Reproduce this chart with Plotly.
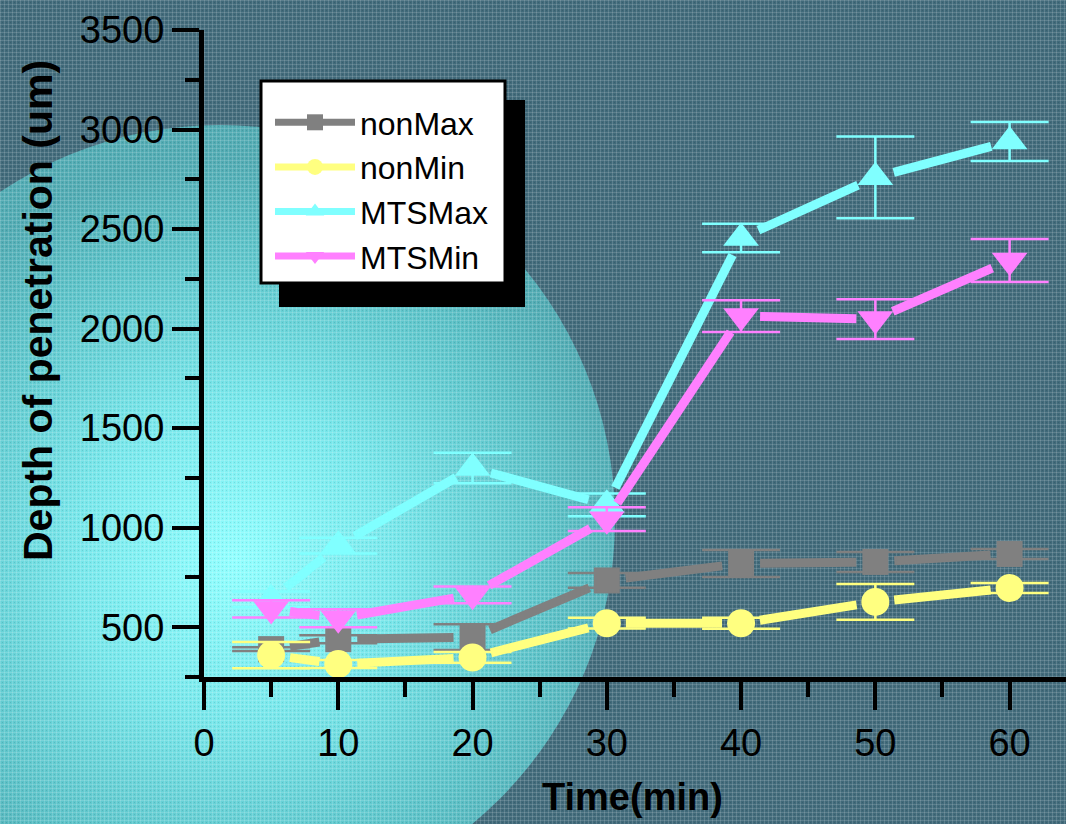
import base64
import math
import plotly.graph_objects as go

# ---------------- data ----------------
time_min = [5, 10, 20, 30, 40, 50, 60]

non_max = [390, 440, 450, 735, 820, 828, 868]
non_max_err = [10, 20, 65, 37, 68, 50, 25]

non_min = [360, 315, 348, 520, 520, 627, 697]
non_min_err = [66, 20, 27, 27, 28, 90, 25]

mts_max = [640, 910, 1300, 1115, 2455, 2760, 2940]
mts_max_err = [40, 40, 77, 57, 72, 205, 98]

mts_min = [592, 545, 663, 1043, 2063, 2048, 2342]
mts_min_err = [43, 45, 42, 60, 80, 100, 108]

series_names = ["nonMax", "nonMin", "MTSMax", "MTSMin"]
x_ticks = [0, 10, 20, 30, 40, 50, 60]
y_ticks = [500, 1000, 1500, 2000, 2500, 3000, 3500]

# ---------------- layout geometry ----------------
W, H = 1066, 824
ML, MT, MR, MB = 204, 30, 0, 147
PW, PH = W - ML - MR, H - MT - MB
XR = [0, 64.2]
YR = [250, 3500]
SX = PW / (XR[1] - XR[0])
SY = PH / (YR[1] - YR[0])


def fx(px):
    return (px - ML) / PW


def fy(py):
    return 1 - (py - MT) / PH


def gapped_segments(xs, ys, gap_px):
    """Line segments between consecutive points, shortened near markers (Origin style)."""
    gx, gy = [], []
    for i in range(len(xs) - 1):
        ax, ay = xs[i] * SX, ys[i] * SY
        bx, by = xs[i + 1] * SX, ys[i + 1] * SY
        dx, dy = bx - ax, by - ay
        L = math.hypot(dx, dy)
        if L <= 2 * gap_px:
            continue
        ux, uy = dx / L, dy / L
        gx += [(ax + ux * gap_px) / SX, (bx - ux * gap_px) / SX, None]
        gy += [(ay + uy * gap_px) / SY, (by - uy * gap_px) / SY, None]
    return gx, gy


# ---------------- background (glow + fine grid texture) ----------------
svg = f"""<svg xmlns='http://www.w3.org/2000/svg' width='{W}' height='{H}' viewBox='0 0 {W} {H}'>
<defs>
<radialGradient id='g' gradientUnits='userSpaceOnUse' cx='235' cy='560' r='400'>
<stop offset='0' stop-color='#90ffff'/>
<stop offset='0.4' stop-color='#76e6ea'/>
<stop offset='0.8' stop-color='#5ac0c6'/>
<stop offset='1' stop-color='#50aab2'/>
</radialGradient>
<pattern id='p' width='4' height='4' patternUnits='userSpaceOnUse'>
<rect x='0' y='0' width='4' height='1' fill='#ffffff' fill-opacity='0.14'/>
<rect x='0' y='0' width='1' height='4' fill='#ffffff' fill-opacity='0.14'/>
<rect x='2' y='2' width='1' height='1' fill='#000000' fill-opacity='0.10'/>
</pattern>
</defs>
<rect x='0' y='0' width='{W}' height='{H}' fill='#416a7a'/>
<circle cx='220' cy='520' r='395' fill='url(#g)'/>
<rect x='0' y='0' width='{W}' height='{H}' fill='url(#p)'/>
</svg>"""
bg_src = "data:image/svg+xml;base64," + base64.b64encode(svg.encode()).decode()

# ---------------- traces ----------------
styles = [
    dict(color="#808080", symbol="square", size=26),
    dict(color="#ffff80", symbol="circle", size=28),
    dict(color="#80ffff", symbol="triangle-up", size=31),
    dict(color="#ff80ff", symbol="triangle-down", size=31),
]
all_y = [non_max, non_min, mts_max, mts_min]
all_err = [non_max_err, non_min_err, mts_max_err, mts_min_err]

fig = go.Figure()
for name, st, ys, es in zip(series_names, styles, all_y, all_err):
    gx, gy = gapped_segments(time_min, ys, 19)
    fig.add_trace(go.Scatter(
        x=gx, y=gy, mode="lines", line=dict(color=st["color"], width=9),
        showlegend=False, hoverinfo="skip", connectgaps=False,
    ))
    fig.add_trace(go.Scatter(
        x=time_min, y=ys, mode="markers",
        marker=dict(color=st["color"], symbol=st["symbol"], size=st["size"], line=dict(width=0)),
        error_y=dict(type="data", array=es, visible=True, color=st["color"], thickness=2.5, width=39),
        showlegend=False,
    ))
    fig.add_trace(go.Scatter(
        x=[None], y=[None], mode="lines+markers", name=name,
        line=dict(color=st["color"], width=7),
        marker=dict(color=st["color"], symbol=st["symbol"], size=16, line=dict(width=0)),
    ))

font_family = "Liberation Sans, Arial, sans-serif"

fig.update_layout(
    width=W, height=H,
    margin=dict(l=ML, r=MR, t=MT, b=MB, pad=0),
    paper_bgcolor="#416a7a",
    plot_bgcolor="rgba(0,0,0,0)",
    font=dict(family=font_family, color="black"),
    images=[dict(
        source=bg_src, xref="paper", yref="paper",
        x=fx(0), y=fy(0), sizex=W / PW, sizey=H / PH,
        xanchor="left", yanchor="top", sizing="stretch", layer="below",
    )],
    shapes=[
        dict(type="rect", xref="paper", yref="paper",
             x0=fx(279), x1=fx(525), y0=fy(307), y1=fy(100),
             fillcolor="black", line=dict(width=0), layer="below"),
        dict(type="rect", xref="paper", yref="paper",
             x0=fx(261), x1=fx(505), y0=fy(283), y1=fy(81),
             fillcolor="white", line=dict(color="black", width=3), layer="below"),
    ],
    legend=dict(
        x=fx(270), y=fy(95), xanchor="left", yanchor="top",
        bgcolor="rgba(0,0,0,0)", borderwidth=0,
        font=dict(family=font_family, size=32, color="black"),
        itemwidth=80, tracegroupgap=0,
    ),
    annotations=[
        dict(text="Depth of penetration (um)", xref="paper", yref="paper",
             x=fx(38), y=fy(311), textangle=-90, showarrow=False,
             xanchor="center", yanchor="middle",
             font=dict(family=font_family, size=41, weight="bold", color="black")),
        dict(text="Time(min)", xref="paper", yref="paper",
             x=fx(632), y=fy(797), showarrow=False,
             xanchor="center", yanchor="middle",
             font=dict(family=font_family, size=38, weight="bold", color="black")),
    ],
    xaxis=dict(
        range=XR, tickmode="array", tickvals=x_ticks, ticktext=[str(v) for v in x_ticks],
        showgrid=False, zeroline=False,
        showline=True, linecolor="black", linewidth=5,
        ticks="outside", ticklen=28, tickwidth=4, tickcolor="black",
        tickfont=dict(family=font_family, size=38, color="black"),
        minor=dict(tickmode="linear", tick0=5, dtick=10, ticks="outside", ticklen=15,
                   tickwidth=4, tickcolor="black", showgrid=False),
    ),
    yaxis=dict(
        range=YR, tickmode="array", tickvals=y_ticks, ticktext=[str(v) for v in y_ticks],
        showgrid=False, zeroline=False,
        showline=True, linecolor="black", linewidth=5,
        ticks="outside", ticklen=27, tickwidth=4, tickcolor="black",
        tickfont=dict(family=font_family, size=38, color="black"),
        minor=dict(tickmode="linear", tick0=250, dtick=500, ticks="outside", ticklen=14,
                   tickwidth=4, tickcolor="black", showgrid=False),
    ),
)

fig.write_html(
    "out.html",
    config={"displayModeBar": False},
    post_script="document.body.style.margin='0px';document.body.style.padding='0px';"
                "document.body.style.overflow='hidden';",
)
